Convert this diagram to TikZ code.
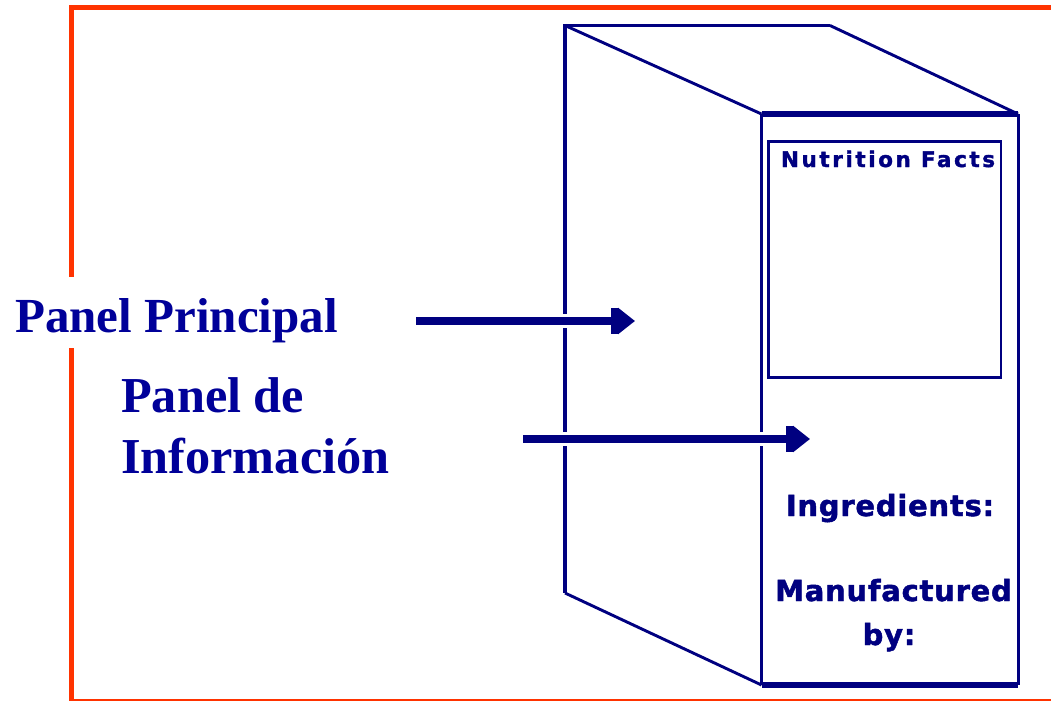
\documentclass[tikz,border=0pt]{standalone}
\usepackage{fontspec}
\setmainfont{Liberation Serif}
\newfontfamily\pixfont[BoldFont={DejaVu Sans Bold},BoldFeatures={FakeBold=1.6}]{DejaVu Sans}
\usetikzlibrary{arrows.meta}
\definecolor{boxblue}{HTML}{000080}
\definecolor{textblue}{HTML}{000099}
\definecolor{framered}{HTML}{FF3300}
\tikzset{
  frameline/.style={draw=framered,line width=5pt,line cap=butt},
  boxline/.style={draw=boxblue,line width=3pt,line cap=butt},
  heavyline/.style={draw=boxblue,line width=5.5pt,line cap=square},
  slantline/.style={draw=boxblue,line width=2.9pt},
  panelarrow/.style={draw=boxblue,fill=boxblue,line width=7.3pt,-{Rectangle[length=8pt,width=25.5pt,fill=boxblue,sep=-0.5pt]Triangle[length=17pt,width=25.5pt,fill=boxblue]}},
  biglabel/.style={inner sep=0pt,anchor=base west,text=textblue},
  pixlabel/.style={inner sep=0pt,anchor=base,text=boxblue}
}
\begin{document}
\begin{tikzpicture}[x=1pt,y=-1pt]
\useasboundingbox (0,0) rectangle (1051,701);
\fill[white] (0,0) rectangle (1051,701);
% frame
\draw[frameline] (1051,7.5) -- (71,7.5) -- (71,277);
\draw[frameline] (71,348) -- (71,699.5);
\draw[framered,line width=2.6pt] (69,700) -- (1051,700);
% box corners
\coordinate (backTL) at (565,25.5);
\coordinate (backTR) at (830,25.5);
\coordinate (backBL) at (565,593);
\coordinate (frontTL) at (761.5,114);
\coordinate (frontTR) at (1018,114);
\coordinate (frontBL) at (761.5,685);
\coordinate (frontBR) at (1018,685);
% back left edge, interrupted by the arrows
\draw[boxline,line width=4pt] (565,24) -- (565,314);
\draw[boxline,line width=4pt] (565,328) -- (565,432);
\draw[boxline,line width=4pt] (565,446) -- (backBL);
% top and slanted edges
\draw[boxline] (backTL) -- (backTR);
\draw[slantline] (backTL) -- (frontTL);
\draw[slantline] (backTR) -- (frontTR);
\draw[slantline] (backBL) -- (frontBL);
% front panel
\draw[heavyline] (frontTL) -- (frontTR);
\draw[heavyline] (frontBL) -- (frontBR);
\draw[boxline] (frontTR) -- (frontBR);
\draw[boxline] (frontTL) -- (761.5,432);
\draw[boxline] (761.5,446) -- (frontBL);
% nutrition box
\node[draw=boxblue,line width=2.5pt,minimum width=232.5pt,minimum height=236pt,inner sep=0pt,anchor=north west] (nutrition) at (767,140) {};
% pixel labels
\node[pixlabel,font=\pixfont\bfseries\addfontfeature{LetterSpace=12}\fontsize{21.5}{21.5}\selectfont] (facts) at (888,167) {Nutrition Facts};
\node[pixlabel,font=\pixfont\bfseries\addfontfeature{LetterSpace=2.6}\fontsize{29}{29}\selectfont] (ingredients) at (890,516) {Ingredients:};
\node[pixlabel,font=\pixfont\bfseries\addfontfeature{LetterSpace=2.6}\fontsize{29}{29}\selectfont] (manufactured) at (893.5,601) {Manufactured};
\node[pixlabel,font=\pixfont\bfseries\addfontfeature{LetterSpace=2.6}\fontsize{29}{29}\selectfont] (madeby) at (889,645) {by:};
% main labels
\node[biglabel,font=\fontsize{49}{49}\selectfont\bfseries] (principal) at (15,332) {Panel Principal};
\node[biglabel,font=\fontsize{50.3}{50}\selectfont\bfseries] (panelde) at (121,412.7) {Panel de};
\node[biglabel,font=\fontsize{50.3}{50}\selectfont\bfseries] (informacion) at (121,473) {Información};
% arrows
\coordinate (a1s) at (416,321);
\coordinate (a1e) at (635,321);
\coordinate (a2s) at (523,439);
\coordinate (a2e) at (810,439);
\draw[panelarrow] (a1s) -- (a1e);
\draw[panelarrow] (a2s) -- (a2e);
\end{tikzpicture}
\end{document}
